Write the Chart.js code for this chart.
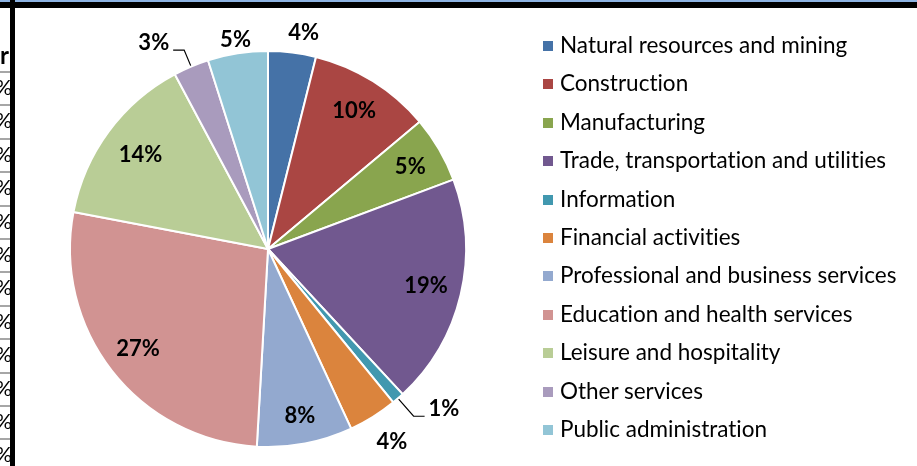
<!DOCTYPE html>
<html>
<head>
<meta charset="utf-8">
<script src="https://cdn.jsdelivr.net/npm/chart.js"></script>
<style>
  html, body { margin: 0; padding: 0; background: #fff; }
  #wrap { position: relative; width: 917px; height: 466px; overflow: hidden; font-family: Lato, "Open Sans", sans-serif; font-variant-ligatures: none; }
  #pieChart { position: absolute; left: 0; top: 0; }
  .bar-top { position: absolute; left: 0; top: 0; width: 917px; height: 2px; background: #8db3e2; }
  .bar-black { position: absolute; left: 0; top: 2px; width: 917px; height: 6px; background: #000; }
  .bar-left { position: absolute; left: 10px; top: 0; width: 5px; height: 466px; background: #000; }
  #sheet { position: absolute; left: 0; top: 0; width: 10px; height: 466px; overflow: hidden; }
  #sheet div { position: absolute; right: -2px; width: 30px; text-align: right; color: #000; font-family: Lato, sans-serif; }
  #sheet .ln { right: 0; width: 10px; height: 2px; background: #a6a6a6; }
  #legend { position: absolute; left: 543px; top: 26px; }
  #legend .item { position: absolute; left: 0; height: 38px; white-space: nowrap; font-size: 22.5px; color: #000; line-height: 38px; }
  #legend .sw { display: inline-block; width: 10px; height: 10px; margin-right: 7px; vertical-align: 2px; }
</style>
</head>
<body>
<div id="wrap">
  <canvas id="pieChart" width="917" height="466"></canvas>
  <div id="sheet"></div>
  <div class="bar-top"></div>
  <div class="bar-black"></div>
  <div class="bar-left"></div>
  <div id="legend"></div>
</div>
<script>
const sectors = [
  'Natural resources and mining',
  'Construction',
  'Manufacturing',
  'Trade, transportation and utilities',
  'Information',
  'Financial activities',
  'Professional and business services',
  'Education and health services',
  'Leisure and hospitality',
  'Other services',
  'Public administration'
];
const shares = [3.9, 10.0, 5.4, 18.8, 1.0, 4.0, 7.8, 27.1, 14.2, 2.9, 4.9];
const colors = ['#4572a7', '#aa4643', '#89a54e', '#71588f', '#4198af', '#db843d',
                '#93a9cf', '#d19392', '#b9cd96', '#a99bbd', '#92c5d6'];

// where each percentage label sits: fraction of radius along the slice middle, plus a small sideways nudge
const labelPos = [1.1, 0.82, 0.82, 0.82, 1.12, 1.15, 0.86, 0.82, 0.8, 1.09, 1.07];
const labelNudge = [9, 0, 2, 0, 0, 3, 0, -2, 0, 0, 0];
const leader = [false, false, false, false, true, false, false, false, false, true, false];

// left-hand sheet fragment (cropped spreadsheet column)
const sheet = document.getElementById('sheet');
let h = '<div style="top:40px;right:1px;font-size:24px;font-weight:bold;">r</div>';
for (let i = 0; i < 12; i++) {
  const y = 71 + i * 33.4;
  h += '<div class="ln" style="top:' + y + 'px"></div>';
  h += '<div style="top:' + (y + 3) + 'px;font-size:21px;">%</div>';
}
sheet.innerHTML = h;

const legend = document.getElementById('legend');
legend.innerHTML = sectors.map((s, i) =>
  '<div class="item" style="top:' + (i * 38.4) + 'px"><span class="sw" style="background:' + colors[i] + '"></span>' + s + '</div>'
).join('');

const pctLabels = {
  id: 'pctLabels',
  afterDatasetsDraw(chart) {
    const ctx = chart.ctx;
    const total = shares.reduce((a, b) => a + b, 0);
    ctx.save();
    ctx.font = 'bold 22px Lato, sans-serif';
    ctx.fillStyle = '#000';
    ctx.strokeStyle = '#000';
    ctx.lineWidth = 1.2;
    chart.getDatasetMeta(0).data.forEach((arc, i) => {
      const mid = (arc.startAngle + arc.endAngle) / 2;
      const dx = Math.cos(mid), dy = Math.sin(mid);
      const r = arc.outerRadius;
      const txt = Math.round(shares[i] / total * 100) + '%';
      if (leader[i]) {
        const sx = arc.x + dx * (r + 1), sy = arc.y + dy * (r + 1);
        const ex = arc.x + dx * r * labelPos[i], ey = arc.y + dy * r * labelPos[i];
        const side = dx >= 0 ? 1 : -1;
        ctx.beginPath();
        ctx.moveTo(sx, sy);
        ctx.lineTo(ex, ey);
        ctx.lineTo(ex + side * 11, ey);
        ctx.stroke();
        ctx.textAlign = side > 0 ? 'left' : 'right';
        ctx.textBaseline = 'middle';
        ctx.fillText(txt, ex + side * 15, ey - 7);
      } else {
        ctx.textAlign = 'center';
        ctx.textBaseline = 'middle';
        ctx.fillText(txt, arc.x + dx * r * labelPos[i] + labelNudge[i], arc.y + dy * r * labelPos[i]);
      }
    });
    ctx.restore();
  }
};

new Chart(document.getElementById('pieChart'), {
  type: 'pie',
  data: {
    labels: sectors,
    datasets: [{
      data: shares,
      backgroundColor: colors,
      borderColor: '#fff',
      borderWidth: 2,
      hoverOffset: 0
    }]
  },
  options: {
    responsive: false,
    animation: false,
    layout: { padding: { left: 69, right: 450, top: 50, bottom: 18 } },
    plugins: {
      legend: { display: false },
      tooltip: { enabled: false }
    }
  },
  plugins: [pctLabels]
});
</script>
</body>
</html>
